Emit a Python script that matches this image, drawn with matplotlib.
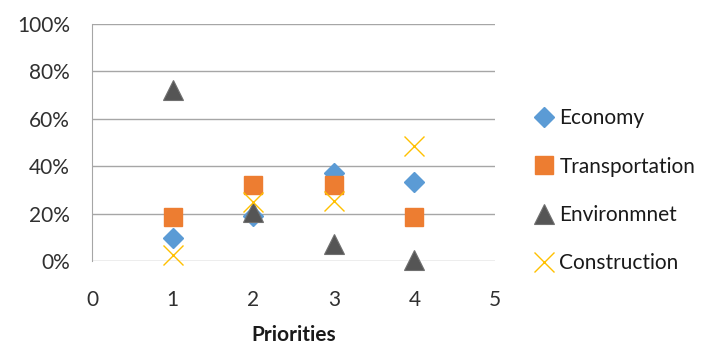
import matplotlib
matplotlib.use("Agg")
import matplotlib.pyplot as plt
from matplotlib.ticker import FuncFormatter

plt.rcParams['font.family'] = ['Lato', 'DejaVu Sans']

priorities = [1, 2, 3, 4]
economy = [9.5, 19, 37, 33.3]
transportation = [18.5, 32, 32, 18.5]
environment = [72.3, 20.8, 7, 0.5]
construction = [2.4, 25, 25.5, 48.7]

series_names = ["Economy", "Transportation", "Environmnet", "Construction"]
x_ticks = [0, 1, 2, 3, 4, 5]
y_ticks = [0, 20, 40, 60, 80, 100]

FS = 15

fig = plt.figure(figsize=(7.13, 3.47), dpi=100)
ax = fig.add_axes([92/713, 1-261/347, (495-92)/713, (261-24)/347])

grid_c = "#a6a6a6"
ax.plot(priorities, economy, linestyle='none', marker='D', markersize=10.5,
        color="#5B9BD5", label=series_names[0])
ax.plot(priorities, transportation, linestyle='none', marker='s', markersize=13.5,
        color="#ED7D31", label=series_names[1])
ax.plot(priorities, environment, linestyle='none', marker='^', markersize=15,
        color="#555555", markeredgecolor="#707070", markeredgewidth=0.8,
        label=series_names[2])
ax.plot(priorities, construction, linestyle='none', marker='x', markersize=14,
        markeredgewidth=1.0, color="#FFC000", label=series_names[3])

ax.set_xlim(0, 5)
ax.set_ylim(0, 100)
ax.set_xticks(x_ticks)
ax.set_yticks(y_ticks)
ax.yaxis.set_major_formatter(FuncFormatter(lambda v, p: f"{int(v)}%"))
ax.grid(axis='y', color=grid_c, linewidth=1)
ax.set_axisbelow(True)
for s in ['top', 'right', 'bottom']:
    ax.spines[s].set_visible(False)
ax.spines['left'].set_color(grid_c)
ax.tick_params(axis='both', length=0, labelsize=FS, colors="#303030")
ax.tick_params(axis='x', pad=21)
ax.tick_params(axis='y', pad=16)
ax.set_xlabel("Priorities", fontsize=FS, fontweight='bold', color="#1a1a1a", labelpad=11)
for line in ax.lines:
    line.set_clip_on(False)

leg = fig.legend(loc='upper left', bbox_to_anchor=(526/713, 1-100/347), frameon=False,
                 fontsize=FS, labelspacing=1.36, handlelength=0.9, handletextpad=0.3,
                 borderaxespad=0, labelcolor="#1a1a1a")

fig.savefig("out.png", dpi=100)
